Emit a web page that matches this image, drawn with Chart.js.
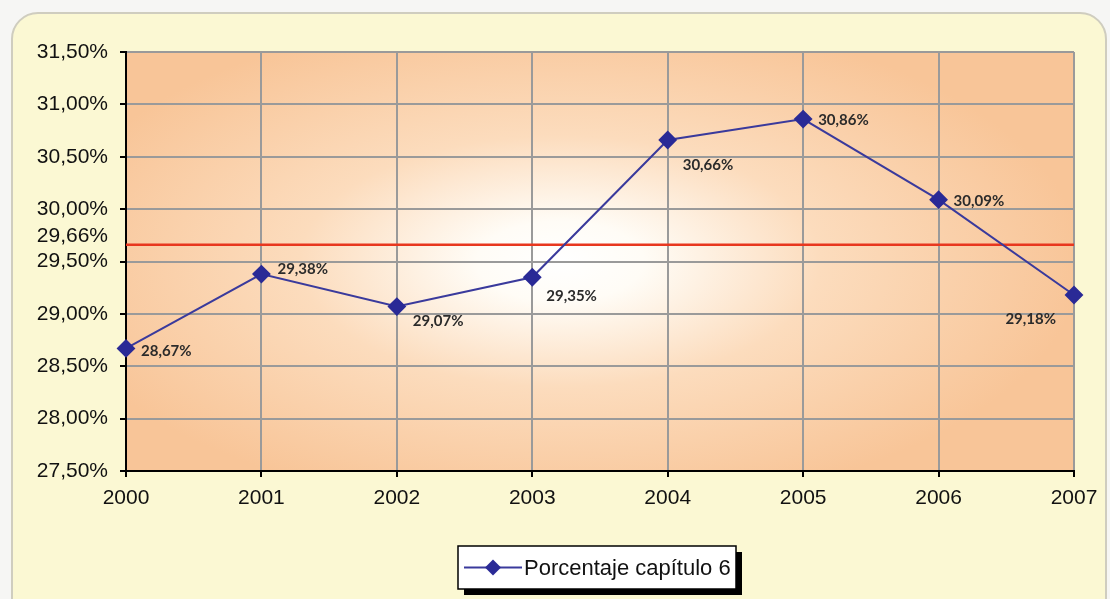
<!DOCTYPE html>
<html>
<head>
<meta charset="utf-8">
<script src="https://cdn.jsdelivr.net/npm/chart.js@4/dist/chart.umd.min.js"></script>
<style>
  html, body { margin: 0; padding: 0; background: #f6f6f4; }
  #wrap { width: 1110px; height: 599px; }
</style>
</head>
<body>
<div id="wrap"><canvas id="chart" width="1110" height="599"></canvas></div>
<script>
const years = ['2000', '2001', '2002', '2003', '2004', '2005', '2006', '2007'];
const porcentaje = [28.67, 29.38, 29.07, 29.35, 30.66, 30.86, 30.09, 29.18];
const promedio = 29.66;
const yTicks = [27.5, 28.0, 28.5, 29.0, 29.5, 30.0, 30.5, 31.0, 31.5];

// where each value label sits relative to its point: [dx, dy, align]
const labelPlace = [
  [15, 3, 'left'], [16, -5, 'left'], [16, 15, 'left'], [14, 19, 'left'],
  [15, 25, 'left'], [15, 1, 'left'], [15, 1, 'left'], [-18, 24, 'right']
];

const fmt = v => v.toFixed(2).replace('.', ',') + '%';
const axisFont = { family: 'Liberation Sans', size: 21 };

// rounded pale panel behind everything + shaded plot area
const backdrop = {
  id: 'backdrop',
  beforeDraw(chart) {
    const { ctx, chartArea: a } = chart;
    ctx.save();
    ctx.fillStyle = '#f6f6f4';
    ctx.fillRect(0, 0, chart.width, chart.height);
    ctx.beginPath();
    ctx.roundRect(12, 13, 1094, 620, 26);
    ctx.fillStyle = '#fbf8d3';
    ctx.fill();
    ctx.lineWidth = 2;
    ctx.strokeStyle = '#cfcdbf';
    ctx.stroke();

    const cx = (a.left + a.right) / 2 - 40, cy = (a.top + a.bottom) / 2;
    const rx = (a.right - a.left) * 0.55, ry = (a.bottom - a.top) * 0.6;
    ctx.beginPath();
    ctx.rect(a.left, a.top, a.right - a.left, a.bottom - a.top);
    ctx.clip();
    ctx.translate(cx, cy);
    ctx.scale(rx / ry, 1);
    const g = ctx.createRadialGradient(0, 0, 0, 0, 0, ry);
    g.addColorStop(0, '#ffffff');
    g.addColorStop(0.16, '#fffcf6');
    g.addColorStop(0.5, '#fcdcbd');
    g.addColorStop(1, '#f8c598');
    ctx.fillStyle = g;
    ctx.fillRect(-ry * 3, -ry * 3, ry * 6, ry * 6);
    ctx.restore();
  }
};

// value labels next to the points, plus the label for the mean line
const valueLabels = {
  id: 'valueLabels',
  afterDatasetsDraw(chart) {
    const { ctx } = chart;
    const meta = chart.getDatasetMeta(0);
    ctx.save();
    ctx.font = 'bold 15px Lato';
    ctx.fillStyle = '#2b2b2b';
    ctx.textBaseline = 'middle';
    meta.data.forEach((pt, i) => {
      const [dx, dy, align] = labelPlace[i];
      ctx.textAlign = align;
      ctx.fillText(fmt(porcentaje[i]), pt.x + dx, pt.y + dy);
    });
    const ys = chart.scales.y;
    ctx.font = '21px "Liberation Sans"';
    ctx.fillStyle = '#111';
    ctx.textAlign = 'right';
    ctx.fillText(fmt(promedio), ys.right - 18, ys.getPixelForValue(promedio) - 9);
    ctx.restore();
  }
};

// boxed legend with drop shadow, line + diamond sample
const boxLegend = {
  id: 'boxLegend',
  afterDraw(chart) {
    const { ctx } = chart;
    const ds = chart.data.datasets[0];
    const x = 458, y = 546, w = 278, h = 43;
    ctx.save();
    ctx.fillStyle = '#000';
    ctx.fillRect(x + 6, y + 6, w, h);
    ctx.fillStyle = '#fff';
    ctx.fillRect(x, y, w, h);
    ctx.strokeStyle = '#000';
    ctx.lineWidth = 1.5;
    ctx.strokeRect(x, y, w, h);
    const my = y + h / 2;
    ctx.strokeStyle = ds.borderColor;
    ctx.lineWidth = 2;
    ctx.beginPath();
    ctx.moveTo(x + 6, my);
    ctx.lineTo(x + 64, my);
    ctx.stroke();
    ctx.fillStyle = ds.pointBackgroundColor;
    ctx.beginPath();
    ctx.moveTo(x + 35, my - 8);
    ctx.lineTo(x + 43, my);
    ctx.lineTo(x + 35, my + 8);
    ctx.lineTo(x + 27, my);
    ctx.closePath();
    ctx.fill();
    ctx.fillStyle = '#111';
    ctx.font = '22px "Liberation Sans"';
    ctx.textBaseline = 'middle';
    ctx.textAlign = 'left';
    ctx.fillText(ds.label, x + 66, my + 1);
    ctx.restore();
  }
};

new Chart(document.getElementById('chart'), {
  type: 'line',
  data: {
    labels: years,
    datasets: [{
      label: 'Porcentaje capítulo 6',
      data: porcentaje,
      borderColor: '#3a3a9c',
      borderWidth: 2,
      pointStyle: 'rectRot',
      pointRadius: 8,
      pointBackgroundColor: '#2a2a96',
      pointBorderColor: '#2a2a96',
      tension: 0
    }, {
      label: 'Promedio',
      data: years.map(() => promedio),
      borderColor: '#e8371e',
      borderWidth: 2.5,
      pointRadius: 0,
      tension: 0
    }]
  },
  options: {
    responsive: false,
    animation: false,
    layout: { padding: { top: 52, right: 36, left: 0, bottom: 0 } },
    plugins: {
      legend: { display: false },
      tooltip: { enabled: false }
    },
    scales: {
      x: {
        offset: false,
        grid: { color: '#9a9a9a', lineWidth: 2, tickColor: '#000', tickLength: 6, offset: false },
        border: { color: '#000', width: 2 },
        ticks: { color: '#111', font: axisFont, padding: 9, maxRotation: 0 },
        afterFit: s => { s.height = 128; }
      },
      y: {
        min: 27.5,
        max: 31.5,
        afterBuildTicks: s => {
          s.ticks = yTicks.concat([promedio]).sort((a, b) => a - b).map(v => ({ value: v }));
        },
        grid: {
          color: c => c.tick && c.tick.value === promedio ? 'rgba(0,0,0,0)' : '#9a9a9a',
          tickColor: c => c.tick && c.tick.value === promedio ? 'rgba(0,0,0,0)' : '#000',
          lineWidth: 2,
          tickLength: 6
        },
        border: { color: '#000', width: 2 },
        ticks: {
          color: '#111',
          font: axisFont,
          padding: 12,
          // the mean's label is drawn by valueLabels
          callback: v => v === promedio ? '' : fmt(v)
        },
        afterFit: s => { s.width = 126; }
      }
    }
  },
  plugins: [backdrop, valueLabels, boxLegend]
});
</script>
</body>
</html>
